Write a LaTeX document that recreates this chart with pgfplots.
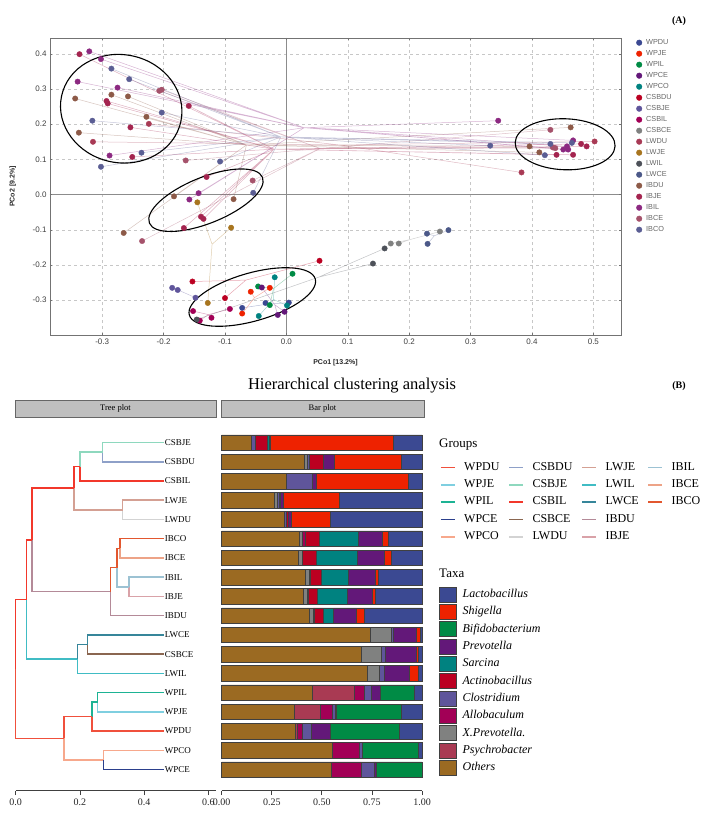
\documentclass[border=0pt]{standalone}
\usepackage{pgfplots}
\pgfplotsset{compat=1.18}
\usepackage{pgfplotstable}
\usepackage{fontspec}
\setmainfont{Liberation Serif}
\setsansfont{Liberation Sans}
\usetikzlibrary{shapes.geometric}
% PCoA palette
\definecolor{aWPDU}{HTML}{3B4992}
\definecolor{aWPJE}{HTML}{EE2200}
\definecolor{aWPIL}{HTML}{008B45}
\definecolor{aWPCE}{HTML}{631879}
\definecolor{aWPCO}{HTML}{008280}
\definecolor{aCSBDU}{HTML}{BB0021}
\definecolor{aCSBJE}{HTML}{5F559B}
\definecolor{aCSBIL}{HTML}{A20056}
\definecolor{aCSBCE}{HTML}{808180}
\definecolor{aLWDU}{HTML}{A83A55}
\definecolor{aLWJE}{HTML}{A8751F}
\definecolor{aLWIL}{HTML}{4D5159}
\definecolor{aLWCE}{HTML}{4B5888}
\definecolor{aIBDU}{HTML}{8D5A48}
\definecolor{aIBJE}{HTML}{A4244F}
\definecolor{aIBIL}{HTML}{8C2981}
\definecolor{aIBCE}{HTML}{A5526B}
\definecolor{aIBCO}{HTML}{5B5E94}
% tree palette
\definecolor{gWPDU}{HTML}{F0503C}
\definecolor{gWPJE}{HTML}{7FCFE0}
\definecolor{gWPIL}{HTML}{1DB394}
\definecolor{gWPCE}{HTML}{2B3F8C}
\definecolor{gWPCO}{HTML}{F7A88C}
\definecolor{gCSBDU}{HTML}{8EA0C8}
\definecolor{gCSBJE}{HTML}{8ED8BE}
\definecolor{gCSBIL}{HTML}{F2382B}
\definecolor{gCSBCE}{HTML}{8A6650}
\definecolor{gLWDU}{HTML}{D3D3D3}
\definecolor{gLWJE}{HTML}{D4A093}
\definecolor{gLWIL}{HTML}{40BCC4}
\definecolor{gLWCE}{HTML}{36869A}
\definecolor{gIBDU}{HTML}{B48A98}
\definecolor{gIBJE}{HTML}{D9A2A8}
\definecolor{gIBIL}{HTML}{9CC2D3}
\definecolor{gIBCE}{HTML}{EDA387}
\definecolor{gIBCO}{HTML}{E2572F}
% taxa palette
\definecolor{tOth}{HTML}{9B6A22}
\definecolor{tPsy}{HTML}{A93A53}
\definecolor{tXpr}{HTML}{808180}
\definecolor{tAll}{HTML}{A20056}
\definecolor{tClo}{HTML}{5F559B}
\definecolor{tAct}{HTML}{BB0021}
\definecolor{tSar}{HTML}{008280}
\definecolor{tPre}{HTML}{631879}
\definecolor{tBif}{HTML}{008B45}
\definecolor{tShi}{HTML}{EE2200}
\definecolor{tLac}{HTML}{3B4992}

\pgfplotstableread{
row Oth Psy Xpr All Clo Act Sar Pre Bif Shi Lac
0   .146 0 0 0 .023 .060 .006 .006 0 .616 .143
-1  .413 0 .015 0 .010 .070 0 .055 0 .331 .106
-2  .321 0 0 0 .133 0 0 .017 0 .462 .067
-3  .263 0 .012 0 .010 .008 0 .015 0 .279 .413
-4  .311 0 0 0 .010 .013 0 .015 0 .195 .456
-5  .386 0 .015 .015 0 .072 .196 .118 0 .027 .171
-6  .381 0 .023 0 0 .068 .203 .135 0 .038 .152
-7  .416 0 .022 .005 0 .053 .138 .135 0 .015 .216
-8  .406 0 .022 .004 0 .047 .146 .125 0 .015 .235
-9  .436 0 .021 .005 0 .045 .050 .116 0 .037 .290
-10 .744 0 .100 0 .013 0 0 .116 0 .017 .010
-11 .699 0 .100 0 .017 0 0 .155 0 .011 .018
-12 .727 0 .058 0 .025 0 0 .126 0 .045 .019
-13 .453 .210 0 .047 .035 0 0 .047 .170 0 .038
-14 .364 .130 0 .057 .015 0 0 .005 .324 0 .105
-15 .369 .010 0 .025 .045 0 0 .092 .343 0 .116
-16 .552 0 0 .133 .017 0 0 0 .280 0 .018
-17 .547 0 0 .151 .062 0 0 .010 .230 0 0
}\bardata

\pgfplotsset{
 sp/.style={forget plot, no markers, color=#1, line width=0.5pt, opacity=0.35, line join=round},
 gp/.style={only marks, mark=*, mark size=2.7pt, color=#1, mark options={fill=#1, draw=#1}},
 tr/.style={forget plot, no markers, color=#1, line width=1.5pt},
 bs/.style={fill=#1, draw=black!75, line width=0.5pt, legend image code/.code={\draw[fill=#1, draw=black!75, line width=0.6pt] (0pt,-7.5pt) rectangle (16.5pt,7.5pt);}},
}

\begin{document}
\begin{tikzpicture}
\path[use as bounding box] (0pt,0pt) rectangle (708pt,-821pt);

%================ (A) PCoA =================
\begin{axis}[
  at={(50pt,-335pt)}, anchor=south west,
  scale only axis, width=571pt, height=297pt,
  xmin=-0.385, xmax=0.545, ymin=-0.399, ymax=0.445,
  xtick={-0.3,-0.2,-0.1,0,0.1,0.2,0.3,0.4,0.5},
  xticklabels={-0.3,-0.2,-0.1,0.0,0.1,0.2,0.3,0.4,0.5},
  ytick={-0.3,-0.2,-0.1,0,0.1,0.2,0.3,0.4},
  yticklabels={-0.3,-0.2,-0.1,0.0,0.1,0.2,0.3,0.4},
  extra x ticks={0}, extra x tick labels={}, extra y ticks={0}, extra y tick labels={},
  extra tick style={grid=major, grid style={solid, black!45, line width=0.7pt}},
  ticklabel style={font=\sffamily\fontsize{8}{9}\selectfont, text=black!75},
  grid=major, grid style={dashed, black!22, line width=0.5pt},
  axis line style={black!55, line width=0.8pt},
  major tick length=2pt, tick style={black!55},
  xlabel={PCo1 [13.2\%]}, ylabel={PCo2 [9.2\%]},
  label style={font=\sffamily\bfseries\fontsize{7}{8}\selectfont, text=black!85},
  xlabel style={at={(axis description cs:0.5,-0.093)}, anchor=center},
  ylabel style={at={(axis description cs:-0.065,0.5)}, anchor=center},
  legend style={at={(1,1)}, anchor=north west, xshift=15pt, yshift=-1pt, draw=none, fill=none,
     font=\sffamily\fontsize{7.3}{8}\selectfont, text=black!60, row sep=4pt, inner sep=0pt,
     nodes={inner sep=0pt, text height=5.5pt, text depth=1.5pt},
     /tikz/every odd column/.append style={column sep=4pt}},
  legend cell align=left,
  legend image code/.code={\fill[#1] (2.8pt,0pt) circle (2.8pt);},
  clip=false,
]
% spider lines to group centroids
\addplot[sp=aWPDU] coordinates {(-0.034,-0.312)(-0.072,-0.322)(-0.034,-0.312)(-0.034,-0.308)(-0.034,-0.312)(0.004,-0.307)};
\addplot[sp=aWPJE] coordinates {(-0.052,-0.293)(-0.027,-0.265)(-0.052,-0.293)(-0.058,-0.276)(-0.052,-0.293)(-0.072,-0.338)};
\addplot[sp=aWPIL] coordinates {(-0.021,-0.267)(0.010,-0.225)(-0.021,-0.267)(-0.046,-0.261)(-0.021,-0.267)(-0.027,-0.314)};
\addplot[sp=aWPCE] coordinates {(-0.019,-0.313)(-0.040,-0.264)(-0.019,-0.313)(-0.014,-0.342)(-0.019,-0.313)(-0.003,-0.333)};
\addplot[sp=aWPCO] coordinates {(-0.021,-0.298)(-0.019,-0.235)(-0.021,-0.298)(0.001,-0.315)(-0.021,-0.298)(-0.045,-0.345)};
\addplot[sp=aCSBDU] coordinates {(-0.066,-0.243)(0.054,-0.188)(-0.066,-0.243)(-0.153,-0.247)(-0.066,-0.243)(-0.100,-0.294)};
\addplot[sp=aCSBJE] coordinates {(-0.170,-0.276)(-0.186,-0.265)(-0.170,-0.276)(-0.177,-0.271)(-0.170,-0.276)(-0.148,-0.293)};
\addplot[sp=aCSBIL] coordinates {(-0.127,-0.341)(-0.092,-0.325)(-0.127,-0.341)(-0.152,-0.331)(-0.127,-0.341)(-0.122,-0.350)(-0.127,-0.341)(-0.141,-0.358)};
\addplot[sp=aCSBCE] coordinates {(0.201,-0.128)(0.170,-0.139)(0.201,-0.128)(0.183,-0.139)(0.201,-0.128)(0.250,-0.105)};
\addplot[sp=aLWDU] coordinates {(0.087,0.141)(-0.224,0.201)(0.087,0.141)(-0.315,0.150)(0.087,0.141)(0.383,0.063)(0.087,0.141)(0.502,0.151)};
\addplot[sp=aLWJE] coordinates {(-0.121,-0.141)(-0.145,-0.022)(-0.121,-0.141)(-0.090,-0.094)(-0.121,-0.141)(-0.128,-0.308)};
\addplot[sp=aLWIL] coordinates {(0.052,-0.235)(0.141,-0.196)(0.052,-0.235)(0.160,-0.153)(0.052,-0.235)(-0.146,-0.355)};
\addplot[sp=aLWCE] coordinates {(0.241,-0.117)(0.229,-0.111)(0.241,-0.117)(0.230,-0.140)(0.241,-0.117)(0.264,-0.101)};
\addplot[sp=aIBDU] coordinates {(-0.065,0.141)(-0.344,0.273)(-0.065,0.141)(-0.285,0.284)(-0.065,0.141)(-0.258,0.279)(-0.065,0.141)(-0.228,0.221)(-0.065,0.141)(-0.338,0.176)(-0.065,0.141)(-0.183,-0.005)(-0.065,0.141)(-0.086,-0.013)(-0.065,0.141)(-0.265,-0.109)(-0.065,0.141)(0.396,0.137)(-0.065,0.141)(0.412,0.120)(-0.065,0.141)(0.463,0.191)};
\addplot[sp=aIBJE] coordinates {(-0.020,0.129)(-0.337,0.399)(-0.020,0.129)(-0.293,0.266)(-0.020,0.129)(-0.291,0.259)(-0.020,0.129)(-0.159,0.252)(-0.020,0.129)(-0.254,0.191)(-0.020,0.129)(-0.251,0.107)(-0.020,0.129)(-0.130,0.050)(-0.020,0.129)(-0.139,-0.063)(-0.020,0.129)(-0.135,-0.069)(-0.020,0.129)(-0.167,-0.095)(-0.020,0.129)(0.440,0.113)(-0.020,0.129)(0.467,0.113)(-0.020,0.129)(0.480,0.144)(-0.020,0.129)(0.489,0.137)};
\addplot[sp=aIBIL] coordinates {(0.029,0.190)(-0.321,0.407)(0.029,0.190)(-0.302,0.385)(0.029,0.190)(-0.340,0.321)(0.029,0.190)(-0.275,0.304)(0.029,0.190)(-0.288,0.111)(0.029,0.190)(-0.143,0.004)(0.029,0.190)(-0.158,-0.014)(0.029,0.190)(0.345,0.210)(0.029,0.190)(0.451,0.128)(0.029,0.190)(0.457,0.137)(0.029,0.190)(0.459,0.128)(0.029,0.190)(0.467,0.154)};
\addplot[sp=aIBCE] coordinates {(0.055,0.131)(-0.207,0.295)(0.055,0.131)(-0.203,0.298)(0.055,0.131)(-0.164,0.097)(0.055,0.131)(-0.055,0.040)(0.055,0.131)(-0.235,-0.132)(0.055,0.131)(0.430,0.184)(0.055,0.131)(0.434,0.134)(0.055,0.131)(0.438,0.132)};
\addplot[sp=aIBCO] coordinates {(-0.009,0.164)(-0.285,0.358)(-0.009,0.164)(-0.256,0.328)(-0.009,0.164)(-0.203,0.233)(-0.009,0.164)(-0.316,0.210)(-0.009,0.164)(-0.236,0.119)(-0.009,0.164)(-0.302,0.079)(-0.009,0.164)(-0.108,0.094)(-0.009,0.164)(-0.054,0.005)(-0.009,0.164)(0.332,0.139)(-0.009,0.164)(0.421,0.112)(-0.009,0.164)(0.430,0.144)(-0.009,0.164)(0.465,0.147)};
% points
\addplot[gp=aWPDU] coordinates {(-0.072,-0.322)(-0.034,-0.308)(0.004,-0.307)}; \addlegendentry{WPDU}
\addplot[gp=aWPJE] coordinates {(-0.027,-0.265)(-0.058,-0.276)(-0.072,-0.338)}; \addlegendentry{WPJE}
\addplot[gp=aWPIL] coordinates {(0.010,-0.225)(-0.046,-0.261)(-0.027,-0.314)}; \addlegendentry{WPIL}
\addplot[gp=aWPCE] coordinates {(-0.040,-0.264)(-0.014,-0.342)(-0.003,-0.333)}; \addlegendentry{WPCE}
\addplot[gp=aWPCO] coordinates {(-0.019,-0.235)(0.001,-0.315)(-0.045,-0.345)}; \addlegendentry{WPCO}
\addplot[gp=aCSBDU] coordinates {(0.054,-0.188)(-0.153,-0.247)(-0.100,-0.294)}; \addlegendentry{CSBDU}
\addplot[gp=aCSBJE] coordinates {(-0.186,-0.265)(-0.177,-0.271)(-0.148,-0.293)}; \addlegendentry{CSBJE}
\addplot[gp=aCSBIL] coordinates {(-0.092,-0.325)(-0.152,-0.331)(-0.122,-0.350)(-0.141,-0.358)}; \addlegendentry{CSBIL}
\addplot[gp=aCSBCE] coordinates {(0.170,-0.139)(0.183,-0.139)(0.250,-0.105)}; \addlegendentry{CSBCE}
\addplot[gp=aLWDU] coordinates {(-0.224,0.201)(-0.315,0.150)(0.383,0.063)(0.502,0.151)}; \addlegendentry{LWDU}
\addplot[gp=aLWJE] coordinates {(-0.145,-0.022)(-0.090,-0.094)(-0.128,-0.308)}; \addlegendentry{LWJE}
\addplot[gp=aLWIL] coordinates {(0.141,-0.196)(0.160,-0.153)(-0.146,-0.355)}; \addlegendentry{LWIL}
\addplot[gp=aLWCE] coordinates {(0.229,-0.111)(0.230,-0.140)(0.264,-0.101)}; \addlegendentry{LWCE}
\addplot[gp=aIBDU] coordinates {(-0.344,0.273)(-0.285,0.284)(-0.258,0.279)(-0.228,0.221)(-0.338,0.176)(-0.183,-0.005)(-0.086,-0.013)(-0.265,-0.109)(0.396,0.137)(0.412,0.120)(0.463,0.191)}; \addlegendentry{IBDU}
\addplot[gp=aIBJE] coordinates {(-0.337,0.399)(-0.293,0.266)(-0.291,0.259)(-0.159,0.252)(-0.254,0.191)(-0.251,0.107)(-0.130,0.050)(-0.139,-0.063)(-0.135,-0.069)(-0.167,-0.095)(0.440,0.113)(0.467,0.113)(0.480,0.144)(0.489,0.137)}; \addlegendentry{IBJE}
\addplot[gp=aIBIL] coordinates {(-0.321,0.407)(-0.302,0.385)(-0.340,0.321)(-0.275,0.304)(-0.288,0.111)(-0.143,0.004)(-0.158,-0.014)(0.345,0.210)(0.451,0.128)(0.457,0.137)(0.459,0.128)(0.467,0.154)}; \addlegendentry{IBIL}
\addplot[gp=aIBCE] coordinates {(-0.207,0.295)(-0.203,0.298)(-0.164,0.097)(-0.055,0.040)(-0.235,-0.132)(0.430,0.184)(0.434,0.134)(0.438,0.132)}; \addlegendentry{IBCE}
\addplot[gp=aIBCO] coordinates {(-0.285,0.358)(-0.256,0.328)(-0.203,0.233)(-0.316,0.210)(-0.236,0.119)(-0.302,0.079)(-0.108,0.094)(-0.054,0.005)(0.332,0.139)(0.421,0.112)(0.430,0.144)(0.465,0.147)}; \addlegendentry{IBCO}
% cluster ellipses
\node[draw, ellipse, line width=1.1pt, minimum width=122pt, minimum height=108pt, inner sep=0pt, rotate=-12] at (axis cs:-0.269,0.244) {};
\node[draw, ellipse, line width=1.1pt, minimum width=122pt, minimum height=46pt, inner sep=0pt, rotate=22] at (axis cs:-0.131,-0.016) {};
\node[draw, ellipse, line width=1.1pt, minimum width=131pt, minimum height=48pt, inner sep=0pt, rotate=16] at (axis cs:-0.0555,-0.291) {};
\node[draw, ellipse, line width=1.1pt, minimum width=100pt, minimum height=51pt, inner sep=0pt, rotate=-2] at (axis cs:0.454,0.143) {};
\end{axis}

\node[font=\bfseries\fontsize{10}{12}\selectfont] at (679pt,-21pt) {(A)};

%================ (B) =================
\node[font=\fontsize{16.5}{19}\selectfont] at (352pt,-386pt) {Hierarchical clustering analysis};
\node[font=\bfseries\fontsize{10}{12}\selectfont] at (679pt,-386pt) {(B)};

\draw[fill=black!25, draw=black!60, line width=0.6pt] (15pt,-400pt) rectangle (216pt,-417pt);
\node[font=\fontsize{8.5}{9}\selectfont] at (115.5pt,-408.5pt) {Tree plot};
\draw[fill=black!25, draw=black!60, line width=0.6pt] (221pt,-400pt) rectangle (424pt,-417pt);
\node[font=\fontsize{8.5}{9}\selectfont] at (322.5pt,-408.5pt) {Bar plot};

\node[anchor=west, font=\fontsize{13}{15}\selectfont, inner sep=0pt] at (439pt,-445pt) {Groups};
\node[anchor=west, font=\fontsize{13}{15}\selectfont, inner sep=0pt] at (439pt,-573pt) {Taxa};

% tree
\begin{axis}[
  at={(15.7pt,-790.7pt)}, anchor=south west,
  scale only axis, width=200pt, height=375.1pt,
  xmin=0, xmax=0.623, ymin=-18.1, ymax=1.4,
  axis x line*=bottom, axis y line=none,
  xtick={0,0.2,0.4,0.6}, xticklabels={0.0,0.2,0.4,0.6},
  tick align=outside, major tick length=4.5pt,
  axis line style={black!75, line width=0.8pt}, tick style={black!75, line width=0.8pt},
  ticklabel style={font=\fontsize{10}{12}\selectfont, text=black!85},
  clip=false,
  legend columns=4,
  legend style={at={(2.1215,0.876)}, anchor=north west, draw=none, fill=none,
     font=\fontsize{12}{14}\selectfont, row sep=6.8pt, inner sep=0pt,
     nodes={inner sep=0pt, text height=8pt, text depth=2.5pt},
     /tikz/every odd column/.append style={column sep=8.5pt},
     /tikz/every even column/.append style={column sep=9pt}},
  legend cell align=left,
  legend image code/.code={\draw[#1, line width=1.5pt] (0pt,0pt) -- (14pt,0pt);},
]
\addlegendimage{color=gWPDU}\addlegendentry{WPDU}
\addlegendimage{color=gCSBDU}\addlegendentry{CSBDU}
\addlegendimage{color=gLWJE}\addlegendentry{LWJE}
\addlegendimage{color=gIBIL}\addlegendentry{IBIL}
\addlegendimage{color=gWPJE}\addlegendentry{WPJE}
\addlegendimage{color=gCSBJE}\addlegendentry{CSBJE}
\addlegendimage{color=gLWIL}\addlegendentry{LWIL}
\addlegendimage{color=gIBCE}\addlegendentry{IBCE}
\addlegendimage{color=gWPIL}\addlegendentry{WPIL}
\addlegendimage{color=gCSBIL}\addlegendentry{CSBIL}
\addlegendimage{color=gLWCE}\addlegendentry{LWCE}
\addlegendimage{color=gIBCO}\addlegendentry{IBCO}
\addlegendimage{color=gWPCE}\addlegendentry{WPCE}
\addlegendimage{color=gCSBCE}\addlegendentry{CSBCE}
\addlegendimage{color=gIBDU}\addlegendentry{IBDU}
\addlegendimage{empty legend}\addlegendentry{}
\addlegendimage{color=gWPCO}\addlegendentry{WPCO}
\addlegendimage{color=gLWDU}\addlegendentry{LWDU}
\addlegendimage{color=gIBJE}\addlegendentry{IBJE}
% n1
\addplot[tr=gCSBJE] coordinates {(0.271,-0.5)(0.271,0)(0.462,0)};
\addplot[tr=gCSBDU] coordinates {(0.271,-0.5)(0.271,-1)(0.462,-1)};
% n2
\addplot[tr=gCSBJE] coordinates {(0.200,-1.25)(0.200,-0.5)(0.271,-0.5)};
\addplot[tr=gCSBIL] coordinates {(0.200,-1.25)(0.200,-2)(0.462,-2)};
% n3
\addplot[tr=gLWJE] coordinates {(0.333,-3.5)(0.333,-3)(0.462,-3)};
\addplot[tr=gLWDU] coordinates {(0.333,-3.5)(0.333,-4)(0.462,-4)};
% n4
\addplot[tr=gCSBIL] coordinates {(0.182,-2.375)(0.182,-1.25)(0.200,-1.25)};
\addplot[tr=gLWJE] coordinates {(0.182,-2.375)(0.182,-3.5)(0.333,-3.5)};
% n5
\addplot[tr=gIBCO] coordinates {(0.325,-5.5)(0.325,-5)(0.462,-5)};
\addplot[tr=gIBCE] coordinates {(0.325,-5.5)(0.325,-6)(0.462,-6)};
% n6
\addplot[tr=gIBIL] coordinates {(0.353,-7.5)(0.353,-7)(0.462,-7)};
\addplot[tr=gIBJE] coordinates {(0.353,-7.5)(0.353,-8)(0.462,-8)};
% n7
\addplot[tr=gIBCO] coordinates {(0.315,-6.5)(0.315,-5.5)(0.325,-5.5)};
\addplot[tr=gIBIL] coordinates {(0.315,-6.5)(0.315,-7.5)(0.353,-7.5)};
% n8
\addplot[tr=gIBCO] coordinates {(0.295,-7.75)(0.295,-6.5)(0.315,-6.5)};
\addplot[tr=gIBDU] coordinates {(0.295,-7.75)(0.295,-9)(0.462,-9)};
% n9
\addplot[tr=gCSBIL] coordinates {(0.050,-5.0625)(0.050,-2.375)(0.182,-2.375)};
\addplot[tr=gIBDU] coordinates {(0.050,-5.0625)(0.050,-7.75)(0.295,-7.75)};
% n10
\addplot[tr=gLWCE] coordinates {(0.223,-10.5)(0.223,-10)(0.462,-10)};
\addplot[tr=gCSBCE] coordinates {(0.223,-10.5)(0.223,-11)(0.462,-11)};
% n11
\addplot[tr=gLWCE] coordinates {(0.192,-11.25)(0.192,-10.5)(0.223,-10.5)};
\addplot[tr=gLWIL] coordinates {(0.192,-11.25)(0.192,-12)(0.462,-12)};
% n12
\addplot[tr=gCSBIL] coordinates {(0.034,-8.156)(0.034,-5.0625)(0.050,-5.0625)};
\addplot[tr=gLWIL] coordinates {(0.034,-8.156)(0.034,-11.25)(0.192,-11.25)};
% n13
\addplot[tr=gWPIL] coordinates {(0.255,-13.5)(0.255,-13)(0.462,-13)};
\addplot[tr=gWPJE] coordinates {(0.255,-13.5)(0.255,-14)(0.462,-14)};
% n14
\addplot[tr=gWPIL] coordinates {(0.237,-14.25)(0.237,-13.5)(0.255,-13.5)};
\addplot[tr=gWPDU] coordinates {(0.237,-14.25)(0.237,-15)(0.462,-15)};
% n15
\addplot[tr=gWPCO] coordinates {(0.273,-16.5)(0.273,-16)(0.462,-16)};
\addplot[tr=gWPCE] coordinates {(0.273,-16.5)(0.273,-17)(0.462,-17)};
% n16
\addplot[tr=gWPDU] coordinates {(0.150,-15.375)(0.150,-14.25)(0.237,-14.25)};
\addplot[tr=gWPCO] coordinates {(0.150,-15.375)(0.150,-16.5)(0.273,-16.5)};
% root
\addplot[tr=gCSBIL] coordinates {(0,-11.77)(0,-8.156)(0.034,-8.156)};
\addplot[tr=gWPDU] coordinates {(0,-11.77)(0,-15.375)(0.150,-15.375)};
% leaf labels
\foreach \lab [count=\i from 0] in {CSBJE,CSBDU,CSBIL,LWJE,LWDU,IBCO,IBCE,IBIL,IBJE,IBDU,LWCE,CSBCE,LWIL,WPIL,WPJE,WPDU,WPCO,WPCE}{
  \edef\tmp{\noexpand\node[anchor=west, inner sep=0.6pt, font=\noexpand\fontsize{9}{10}\noexpand\selectfont] at (axis cs:0.462,-\i) {\lab};}\tmp
}
\end{axis}

% bars
\begin{axis}[
  at={(221.7pt,-790.7pt)}, anchor=south west,
  scale only axis, width=200.3pt, height=375.1pt,
  xmin=0, xmax=1, ymin=-18.1, ymax=1.4,
  xbar stacked, bar width=15.5pt,
  axis x line*=bottom, axis y line=none,
  xtick={0,0.25,0.5,0.75,1}, xticklabels={0.00,0.25,0.50,0.75,1.00},
  tick align=outside, major tick length=4.5pt,
  axis line style={black!75, line width=0.8pt}, tick style={black!75, line width=0.8pt},
  ticklabel style={font=\fontsize{10}{12}\selectfont, text=black!85},
  clip=false,
  reverse legend,
  legend style={at={(1.0849,0.544)}, anchor=north west, draw=none, fill=none,
     font=\itshape\fontsize{12}{14}\selectfont, row sep=1.7pt, inner sep=0pt,
     nodes={inner sep=0pt, text height=10.5pt, text depth=4.5pt},
     /tikz/every odd column/.append style={column sep=6.3pt}},
  legend cell align=left,
]
\addplot[bs=tOth] table[x=Oth, y=row] {\bardata}; \addlegendentry{Others}
\addplot[bs=tPsy] table[x=Psy, y=row] {\bardata}; \addlegendentry{Psychrobacter}
\addplot[bs=tXpr] table[x=Xpr, y=row] {\bardata}; \addlegendentry{X.Prevotella.}
\addplot[bs=tAll] table[x=All, y=row] {\bardata}; \addlegendentry{Allobaculum}
\addplot[bs=tClo] table[x=Clo, y=row] {\bardata}; \addlegendentry{Clostridium}
\addplot[bs=tAct] table[x=Act, y=row] {\bardata}; \addlegendentry{Actinobacillus}
\addplot[bs=tSar] table[x=Sar, y=row] {\bardata}; \addlegendentry{Sarcina}
\addplot[bs=tPre] table[x=Pre, y=row] {\bardata}; \addlegendentry{Prevotella}
\addplot[bs=tBif] table[x=Bif, y=row] {\bardata}; \addlegendentry{Bifidobacterium}
\addplot[bs=tShi] table[x=Shi, y=row] {\bardata}; \addlegendentry{Shigella}
\addplot[bs=tLac] table[x=Lac, y=row] {\bardata}; \addlegendentry{Lactobacillus}
\end{axis}
\end{tikzpicture}
\end{document}
